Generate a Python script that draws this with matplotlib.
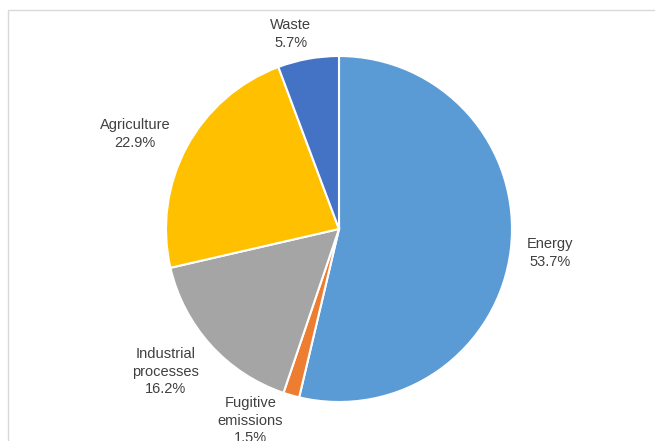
import matplotlib.pyplot as plt
import matplotlib.patches as mpatches
import numpy as np

# Emissions by sector (%)
sectors = ["Energy", "Fugitive\nemissions", "Industrial\nprocesses", "Agriculture", "Waste"]
shares = [53.7, 1.5, 16.2, 22.9, 5.7]
colors = ["#5B9BD5", "#ED7D31", "#A5A5A5", "#FFC000", "#4472C4"]

# label placement: (angle offset from wedge middle in deg, distance in radii)
label_pos = [(0.2, 1.23), (-8.8, 1.22), (-2.7, 1.30), (3.3, 1.30), (3.7, 1.16)]

W, H = 655, 441
fig = plt.figure(figsize=(W / 100, H / 100), dpi=100)

# light grey chart frame (cropped at right / bottom)
fig.patches.append(mpatches.Rectangle((8 / W, -0.1), 1.2, (H - 10) / H + 0.1,
                                      transform=fig.transFigure, fill=False,
                                      edgecolor="#D9D9D9", linewidth=1.0))

cx, cy, r = 339, 229, 173
ax = fig.add_axes([(cx - r) / W, (H - cy - r) / H, 2 * r / W, 2 * r / H])
wedges, _ = ax.pie(shares, colors=colors, startangle=90, counterclock=False,
                   wedgeprops=dict(edgecolor="white", linewidth=1.5))
ax.set_xlim(-1, 1)
ax.set_ylim(-1, 1)
ax.set_aspect("equal")
ax.axis("off")

for w, name, val, (da, dist) in zip(wedges, sectors, shares, label_pos):
    mid = np.deg2rad((w.theta1 + w.theta2) / 2 + da)
    ax.text(dist * np.cos(mid), dist * np.sin(mid), f"{name}\n{val:.1f}%",
            ha="center", va="center", fontsize=10.5, color="#404040",
            family="Liberation Sans", linespacing=1.32, clip_on=False)

fig.savefig("out.png", dpi=100)
